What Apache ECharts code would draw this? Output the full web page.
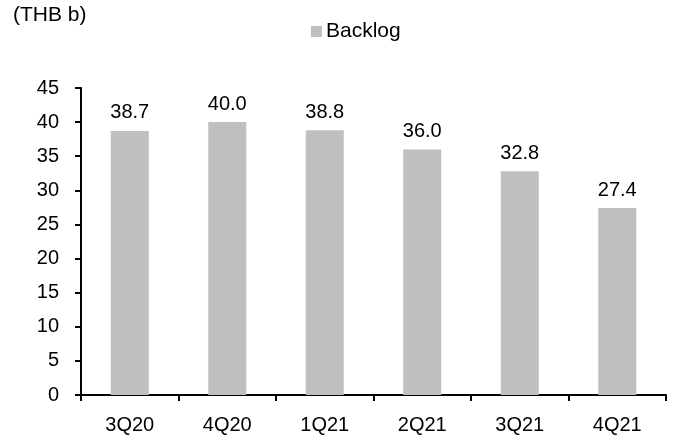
<!DOCTYPE html>
<html>
<head>
<meta charset="utf-8">
<script src="https://cdn.jsdelivr.net/npm/echarts@6/dist/echarts.min.js"></script>
<style>
  html, body { margin: 0; padding: 0; background: #fff; }
  #chart { width: 678px; height: 438px; }
</style>
</head>
<body>
<div id="chart"></div>
<script>
// Quarterly backlog, THB billion
const categories = ['3Q20', '4Q20', '1Q21', '2Q21', '3Q21', '4Q21'];
const backlog = [38.7, 40.0, 38.8, 36.0, 32.8, 27.4];
const yTicks = { min: 0, max: 45, interval: 5 };

const font = 'Liberation Sans, Arial, sans-serif';
const chart = echarts.init(document.getElementById('chart'), null, { renderer: 'canvas' });

chart.setOption({
  animation: false,
  textStyle: { fontFamily: font },
  grid: { left: 81, right: 12, top: 88, bottom: 43 },
  graphic: [{
    type: 'text',
    left: 13,
    top: 5,
    style: { text: '(THB b)', font: '21px ' + font, fill: '#000' }
  }],
  legend: {
    data: ['Backlog'],
    left: 306,
    top: 16,
    icon: 'rect',
    itemWidth: 11,
    itemHeight: 11,
    itemGap: 5,
    textStyle: { fontSize: 21, color: '#000', fontFamily: font, padding: [0, 0, 0, -1] }
  },
  xAxis: {
    type: 'category',
    data: categories,
    axisLine: { lineStyle: { color: '#000', width: 2 } },
    axisTick: { show: true, length: 6, lineStyle: { color: '#000', width: 2 } },
    axisLabel: { color: '#000', fontSize: 20, margin: 20, fontFamily: font }
  },
  yAxis: {
    type: 'value',
    min: yTicks.min,
    max: yTicks.max,
    interval: yTicks.interval,
    splitLine: { show: false },
    axisLine: { show: true, lineStyle: { color: '#000', width: 2 } },
    axisTick: { show: true, length: 6, lineStyle: { color: '#000', width: 2 } },
    axisLabel: { color: '#000', fontSize: 20, margin: 22, fontFamily: font }
  },
  series: [{
    name: 'Backlog',
    type: 'bar',
    data: backlog,
    barWidth: 38,
    itemStyle: { color: '#bfbfbf' },
    label: {
      show: true,
      position: 'top',
      distance: 8,
      color: '#000',
      fontSize: 20,
      fontFamily: font,
      formatter: p => p.value.toFixed(1)
    }
  }]
});
</script>
</body>
</html>
